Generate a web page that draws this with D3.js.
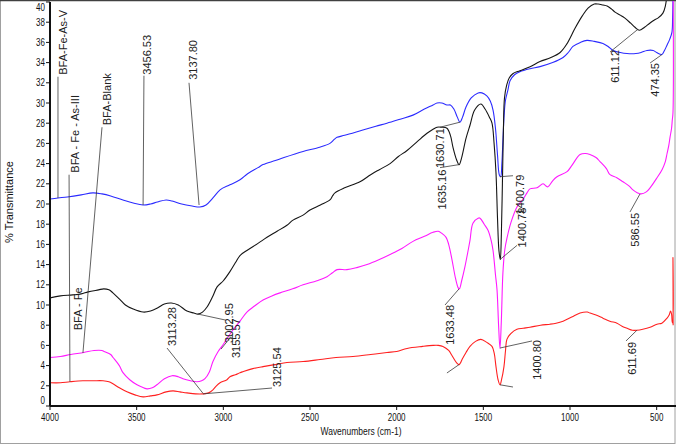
<!DOCTYPE html>
<html><head><meta charset="utf-8">
<script src="https://cdn.jsdelivr.net/npm/d3@7"></script>
<style>
html,body{margin:0;padding:0;background:#fff;}
svg{display:block;font-family:"Liberation Sans",Arial,sans-serif;}
</style></head>
<body>
<svg id="chart" width="676" height="445"></svg>
<script>
// ---- Data (wavenumber cm-1 , % transmittance) ----
const xTicks = [4000, 3500, 3000, 2500, 2000, 1500, 1000, 500];
const yTicks = d3.range(0, 41, 2);

const seriesNames = ["BFA-Fe-As-V", "BFA - Fe", "BFA-Blank", "BFA - Fe - As-III"];
const seriesColors = ["#2b2bff", "#151515", "#ff1aff", "#ff2020"];

const blueWn = [4000,3954,3900,3820,3752,3700,3650,3579,3520,3463,3420,3380,3330,3296,3240,3180,3135,3100,3060,3019,2962,2904,2860,2800,2771,2700,2650,2540,2450,2385,2360,2344,2300,2200,2120,2056,1980,1906,1840,1790,1767,1740,1710,1690,1670,1650,1635,1620,1600,1570,1530,1508,1480,1460,1444,1430,1418,1408,1400,1393,1387,1380,1372,1358,1346,1320,1289,1230,1173,1100,1040,1010,983,940,902,860,810,780,752,710,671,620,590,556,520,500,470,455,441,425,412,408,405];
const blueT  = [20.5,20.6,20.7,20.9,21.1,21.0,20.8,20.4,20.1,19.9,20.0,20.2,20.4,20.3,20.0,19.8,19.7,19.9,20.6,21.4,21.9,22.4,23.0,23.6,23.9,24.3,24.6,25.2,25.6,26.0,26.4,26.6,26.8,27.3,27.7,28.0,28.4,28.8,29.4,29.8,30.0,30.0,29.8,29.8,29.4,28.6,28.1,28.6,29.6,30.5,31.0,31.0,30.7,30.2,29.3,27.5,24.8,22.9,22.7,24.0,26.3,28.8,30.3,31.3,32.2,32.8,33.1,33.4,33.6,34.0,34.5,35.0,35.6,36.0,36.2,36.1,35.9,35.6,35.2,35.0,34.9,34.9,35.0,35.2,35.2,35.0,34.8,35.2,35.7,36.3,37.0,38.5,42];

const blackWn = [4000,3940,3870,3820,3780,3720,3690,3660,3637,3600,3565,3520,3463,3420,3380,3340,3300,3260,3210,3170,3146,3120,3094,3060,3036,3000,2962,2930,2904,2864,2800,2748,2690,2633,2598,2540,2500,2440,2385,2370,2356,2300,2212,2150,2100,2038,1990,1940,1880,1825,1790,1767,1740,1710,1690,1675,1655,1640,1625,1600,1577,1550,1514,1490,1465,1450,1438,1427,1418,1410,1402,1396,1390,1384,1378,1365,1350,1330,1289,1230,1173,1110,1057,1020,971,930,896,860,838,810,786,760,740,710,683,650,625,600,570,540,515,493,464,450,440];
const blackT  = [10.7,10.9,11.0,11.1,11.3,11.5,11.6,11.5,11.2,10.6,10.0,9.6,9.3,9.4,9.7,10.1,10.2,10.0,9.4,9.2,9.1,9.3,9.8,10.9,11.8,12.4,13.3,14.2,14.9,15.4,16.1,16.7,17.3,17.9,18.4,18.9,19.4,19.9,20.4,20.8,21.1,21.6,22.2,22.9,23.4,24.0,24.7,25.3,26.2,27.0,27.4,27.6,27.6,27.5,26.8,25.6,24.4,23.9,24.6,26.5,27.8,29.3,29.9,29.4,28.6,28.0,26.0,23.1,18.5,15.4,14.5,17.0,22.0,27.5,30.5,31.8,32.5,32.9,33.2,33.6,34.1,34.5,35.0,35.8,37.4,38.6,39.4,39.8,39.8,39.7,39.6,39.3,39.0,38.7,38.4,37.9,37.5,37.2,37.5,37.9,38.2,38.4,38.9,39.6,40.8];

const magentaWn = [4000,3940,3880,3805,3746,3700,3688,3650,3636,3600,3579,3540,3498,3460,3440,3410,3383,3340,3296,3260,3233,3190,3152,3125,3106,3080,3060,3030,3008,2985,2950,2904,2864,2820,2771,2720,2673,2600,2540,2460,2402,2370,2344,2287,2230,2171,2100,2038,1970,1906,1840,1790,1760,1740,1715,1700,1681,1660,1645,1638,1625,1606,1590,1577,1560,1530,1519,1495,1473,1455,1444,1430,1421,1412,1404,1396,1387,1376,1364,1340,1306,1270,1248,1231,1190,1156,1140,1127,1100,1075,1017,990,942,910,885,850,827,790,769,730,694,660,637,610,590,560,538,498,469,450,440,430,423,414,410,406,405];
const magentaT  = [4.8,4.9,5.1,5.3,5.5,5.5,5.4,5.1,4.8,4.0,3.3,2.6,2.1,1.8,1.7,1.8,2.1,2.7,3.0,2.9,2.7,2.5,2.4,2.5,2.7,3.4,4.4,5.4,5.9,6.5,7.4,8.4,9.3,9.9,10.5,10.9,11.2,11.6,12.0,12.4,12.8,13.2,13.5,13.5,13.7,14.0,14.5,15.0,15.6,16.3,16.8,17.2,17.3,17.1,16.7,16.0,14.5,12.6,11.7,11.6,12.4,13.8,15.2,16.4,18.1,18.6,18.6,18.0,17.4,16.4,15.4,13.0,11.5,8.0,5.7,8.5,13.2,15.5,16.6,18.2,19.7,20.5,21.1,21.5,21.6,22.0,21.8,21.7,22.3,22.7,23.2,23.8,24.9,25.0,24.9,24.6,24.2,23.5,22.9,22.6,22.2,21.8,21.4,21.1,21.0,21.2,21.6,22.6,23.4,24.2,25.0,25.8,26.6,27.5,28.3,29.0,42];

const redWn = [4000,3940,3885,3810,3750,3694,3660,3637,3600,3556,3510,3463,3420,3383,3330,3290,3250,3210,3160,3117,3085,3060,3040,3019,2979,2962,2930,2904,2887,2830,2771,2700,2633,2540,2442,2350,2252,2150,2056,2000,1940,1850,1790,1760,1733,1700,1681,1655,1640,1620,1600,1577,1545,1514,1480,1450,1437,1427,1415,1404,1395,1381,1372,1364,1340,1306,1270,1231,1170,1115,1080,1040,990,942,900,885,850,810,770,729,700,671,640,613,580,538,498,470,440,428,420,414,410,407,406,405];
const redT  = [2.3,2.3,2.4,2.5,2.5,2.5,2.4,2.2,1.8,1.4,1.1,0.9,1.0,1.1,1.4,1.5,1.4,1.3,1.2,1.2,1.3,1.6,2.0,2.3,2.6,2.9,3.1,3.3,3.4,3.7,3.9,4.1,4.3,4.4,4.6,4.8,4.9,5.1,5.3,5.4,5.7,5.9,6.0,6.0,5.9,5.5,5.0,4.3,4.1,4.7,5.3,5.9,6.4,6.6,6.3,5.9,5.2,3.9,2.6,2.1,2.6,3.9,5.5,6.6,7.2,7.6,7.7,7.8,8.0,8.1,8.2,8.4,8.8,9.2,9.3,9.2,9.0,8.7,8.4,8.2,7.9,7.7,7.5,7.5,7.6,7.8,8.1,8.2,8.7,9.0,9.4,9.1,8.3,8.2,14.7,8.0];

// Peak / series annotations: peak point -> leader end, text (rotated) in data units
const annotations = [
  {text:"BFA-Fe-As-V",       pw:3954, pv:20.6, ew:3954, ev:32.6, tw:3925, tv:32.8, side:"start"},
  {text:"BFA - Fe - As-III", pw:3885, pv:2.4,  ew:3890, ev:22.9, tw:3856, tv:23.1, side:"start"},
  {text:"BFA-Blank",         pw:3810, pv:5.25, ew:3700, ev:27.6, tw:3671, tv:27.8, side:"start"},
  {text:"BFA - Fe",          pw:null,                            tw:3836, tv:7.5,  side:"start"},
  {text:"3456.53", pw:3463, pv:19.9, ew:3458, ev:32.7, tw:3440, tv:32.8, side:"start"},
  {text:"3137.80", pw:3140, pv:19.9, ew:3198, ev:32.0, tw:3175, tv:32.3, side:"start"},
  {text:"3113.28", pw:3117, pv:1.25, ew:3325, ev:5.74, tw:3296, tv:5.94, side:"start"},
  {text:"3125.54", pw:3117, pv:1.2,  ew:2719, ev:1.78, tw:2690, tv:1.88, side:"start"},
  {text:"3002.95", pw:3146, pv:9.1,  ew:2985, ev:8.5,  tw:2967, tv:6.24, side:"start"},
  {text:"3155.57", pw:3013, pv:5.64, ew:2962, ev:6.73, tw:2927, tv:4.75, side:"start"},
  {text:"1630.71", pw:1635, pv:28.1, ew:1750, ev:27.6, tw:1750, tv:27.5, side:"end"},
  {text:"1635.16", pw:1640, pv:23.9, ew:1750, ev:23.6, tw:1738, tv:23.4, side:"end"},
  {text:"1400.79", pw:1404, pv:22.7, ew:1329, ev:22.8, tw:1288, tv:22.9, side:"end"},
  {text:"1400.78", pw:1404, pv:14.5, ew:1306, ev:15.9, tw:1277, tv:15.7, side:"start"},
  {text:"1633.48", pw:1640, pv:11.6, ew:1721, ev:10.0, tw:1692, tv:10.0, side:"end"},
  {text:"1400.80", pw:1404, pv:5.74, ew:1219, ev:6.44, tw:1190, tv:6.53, side:"end"},
  {text:"",        pw:1404, pv:2.1,  ew:1329, ev:1.88},
  {text:"",        pw:1640, pv:4.1,  ew:1710, ev:3.27},
  {text:"611.12",  pw:608,  pv:37.3, ew:769,  ev:35.05, tw:740, tv:35.25, side:"end"},
  {text:"474.35",  pw:469,  pv:34.8, ew:538,  ev:33.96, tw:510, tv:33.96, side:"end"},
  {text:"586.55",  pw:596,  pv:21.0, ew:654,  ev:19.21, tw:625, tv:19.11, side:"end"},
  {text:"611.69",  pw:613,  pv:7.52, ew:677,  ev:6.44,  tw:642, tv:6.34,  side:"end"}
];

// ---- Chart ----
const W = 676, H = 445;
const svg = d3.select("#chart");
const x = d3.scaleLinear().domain([4000, 400]).range([50, 674]);
const y = d3.scaleLinear().domain([0, 40]).range([406, 2]);

// outer frame
svg.append("rect").attr("x",0.5).attr("y",0.5).attr("width",W-1.5).attr("height",443)
  .attr("fill","none").attr("stroke","#a0a0a0").attr("stroke-width",1);
svg.append("line").attr("x1",0).attr("x2",W).attr("y1",0.5).attr("y2",0.5)
  .attr("stroke","#404040").attr("stroke-width",1.5);

svg.append("defs").append("clipPath").attr("id","plotclip")
  .append("rect").attr("x",50).attr("y",1).attr("width",W-50).attr("height",405);

// series
const series = [
  {wn: blueWn, t: blueT},
  {wn: blackWn, t: blackT},
  {wn: magentaWn, t: magentaT},
  {wn: redWn, t: redT}
];
const line = d3.line().x(d => x(d[0])).y(d => y(d[1])).curve(d3.curveCatmullRom.alpha(0.5));
const gLines = svg.append("g").attr("clip-path","url(#plotclip)");
series.forEach((s, i) => {
  gLines.append("path")
    .datum(s.wn.map((w, k) => [w, s.t[k]]))
    .attr("fill","none")
    .attr("stroke", seriesColors[i])
    .attr("stroke-width", 1.1)
    .attr("stroke-linejoin","round")
    .attr("d", line);
});

// annotations
const gAnn = svg.append("g");
annotations.forEach(a => {
  if (a.pw != null) {
    gAnn.append("line")
      .attr("x1", x(a.pw)).attr("y1", y(a.pv))
      .attr("x2", x(a.ew)).attr("y2", y(a.ev))
      .attr("stroke","#3a3a3a").attr("stroke-width",0.8);
  }
  if (a.text) {
    gAnn.append("text")
      .attr("transform", `translate(${x(a.tw) + 4},${y(a.tv)}) rotate(-90)`)
      .attr("text-anchor", a.side)
      .attr("font-size", 11)
      .attr("fill","#222")
      .text(a.text);
  }
});

// axes
const gAxis = svg.append("g");
gAxis.append("line").attr("x1",x(4000)).attr("x2",W).attr("y1",y(0)).attr("y2",y(0))
  .attr("stroke","#111").attr("stroke-width",2);
gAxis.append("line").attr("x1",x(4000)).attr("x2",x(4000)).attr("y1",y(40)).attr("y2",y(0))
  .attr("stroke","#111").attr("stroke-width",2);

// y ticks & labels
yTicks.forEach(v => {
  const yy = y(v);
  gAxis.append("line").attr("x1",x(4000)-4).attr("x2",x(4000)).attr("y1",yy).attr("y2",yy)
    .attr("stroke","#111").attr("stroke-width",1);
  const ly = Math.max(7, Math.min(400, yy));
  gAxis.append("text")
    .attr("transform", `translate(45,${ly + 3.6}) scale(0.8,1)`)
    .attr("text-anchor","end").attr("font-size",10).attr("fill","#111")
    .text(v);
});
// x ticks & labels
xTicks.forEach(v => {
  const xx = x(v);
  gAxis.append("line").attr("x1",xx).attr("x2",xx).attr("y1",y(0)).attr("y2",y(0)+4)
    .attr("stroke","#111").attr("stroke-width",1);
  gAxis.append("text")
    .attr("transform", `translate(${xx},421) scale(0.8,1)`)
    .attr("text-anchor","middle").attr("font-size",10).attr("fill","#111")
    .text(v);
});

// axis titles
svg.append("text")
  .attr("transform", "translate(361,435) scale(0.77,1)")
  .attr("text-anchor","middle").attr("font-size",11).attr("fill","#111")
  .text("Wavenumbers (cm-1)");
svg.append("text")
  .attr("transform", "translate(13,202) rotate(-90)")
  .attr("text-anchor","middle").attr("font-size",11).attr("fill","#111")
  .text("% Transmittance");
</script>
</body></html>
